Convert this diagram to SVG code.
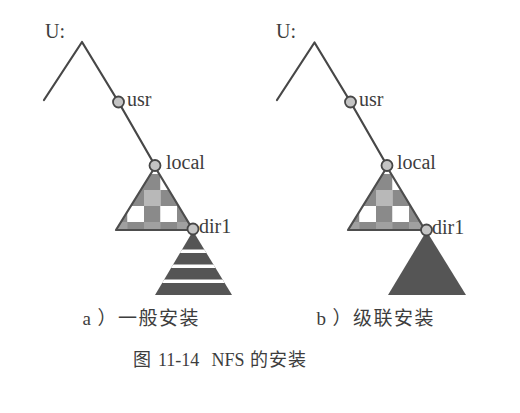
<svg xmlns="http://www.w3.org/2000/svg" width="520" height="413" viewBox="0 0 520 413">
  <style>
    .edge { fill: none; stroke: #474747; stroke-width: 2.2; stroke-linecap: round; stroke-linejoin: round; }
    .node { fill: #c4c4c4; stroke: #474747; stroke-width: 1.8; }
    .lbl { font-family: "Liberation Serif", "Noto Sans CJK SC", serif; font-size: 20px; fill: #3d3d3d; }
    .cap { font-family: "Liberation Serif", "Noto Sans CJK SC", serif; font-size: 19px; fill: #3d3d3d; letter-spacing: 1.5px; }
    .ttl { font-family: "Liberation Serif", "Noto Sans CJK SC", serif; font-size: 18px; fill: #3d3d3d; }
    .tri { stroke: #4d4d4d; stroke-width: 2.2; stroke-linejoin: round; }
    .dk { fill: #8a8a8a; }
    .wh { fill: #ffffff; }
    .lt { fill: #b8b8b8; }
    .md { fill: #a0a0a0; }
    .solid { fill: #555555; }
  </style>
  <defs>
    <clipPath id="chkClip">
      <polygon points="155,167 116,230 193,230"/>
    </clipPath>
    <clipPath id="stripeClip">
      <polygon points="193,231 155,295 232,295"/>
    </clipPath>
    <g id="checker">
      <g clip-path="url(#chkClip)">
        <rect class="wh" x="144" y="158" width="16.5" height="16"/>
        <rect class="dk" x="160.5" y="158" width="16.5" height="16"/>
        <rect class="dk" x="127.5" y="174" width="16.5" height="16"/>
        <rect class="dk" x="144" y="174" width="16.5" height="16"/>
        <rect class="wh" x="160.5" y="174" width="16.5" height="16"/>
        <rect class="lt" x="111" y="190" width="16.5" height="16"/>
        <rect class="dk" x="127.5" y="190" width="16.5" height="16"/>
        <rect class="lt" x="144" y="190" width="16.5" height="16"/>
        <rect class="dk" x="160.5" y="190" width="16.5" height="16"/>
        <rect class="lt" x="177" y="190" width="16.5" height="16"/>
        <rect class="dk" x="111" y="206" width="16.5" height="16"/>
        <rect class="wh" x="127.5" y="206" width="16.5" height="16"/>
        <rect class="dk" x="144" y="206" width="16.5" height="16"/>
        <rect class="wh" x="160.5" y="206" width="16.5" height="16"/>
        <rect class="dk" x="177" y="206" width="16.5" height="16"/>
        <rect class="md" x="111" y="222" width="83" height="16"/>
        <rect class="dk" x="127.5" y="222" width="16.5" height="16"/>
        <rect class="dk" x="160.5" y="222" width="16.5" height="16"/>
      </g>
      <polygon class="tri" points="155,167 116,230 193,230" fill="none"/>
    </g>
  </defs>

  <rect width="520" height="413" fill="#ffffff"/>

  <!-- a) 一般安装 -->
  <g id="diagram-a">
    <g id="a-connectors">
      <polyline class="edge" points="44,100 82,42 118.5,102 155,165.5"/>
    </g>
    <g id="a-root"><text class="lbl" x="45" y="38">U:</text></g>
    <g id="a-local-tree"><use href="#checker"/></g>
    <g id="a-dir1-tree">
      <polygon class="solid" points="193,231 155,295 232,295"/>
      <g clip-path="url(#stripeClip)" fill="#ffffff">
        <rect x="150" y="249.5" width="90" height="3.5"/>
        <rect x="150" y="264.5" width="90" height="3.5"/>
        <rect x="150" y="279.5" width="90" height="3.5"/>
      </g>
    </g>
    <g id="a-usr"><circle class="node" cx="118.5" cy="102" r="5.5"/><text class="lbl" x="127" y="106">usr</text></g>
    <g id="a-local"><circle class="node" cx="155" cy="165.5" r="5.5"/><text class="lbl" x="166" y="169">local</text></g>
    <g id="a-dir1"><circle class="node" cx="193" cy="229" r="5.5"/><text class="lbl" x="199" y="233">dir1</text></g>
    <g id="a-caption">
      <text class="cap" x="82.5" y="325">a<tspan dx="5">）</tspan>一般安装</text>
    </g>
  </g>

  <!-- b) 级联安装 -->
  <g id="diagram-b" transform="translate(232,0)">
    <g id="b-connectors">
      <polyline class="edge" points="45,100 82.5,42.5 118.5,102 155,165.5"/>
    </g>
    <g id="b-root"><text class="lbl" x="44" y="38">U:</text></g>
    <g id="b-local-tree"><use href="#checker"/></g>
    <g id="b-dir1-tree">
      <polygon class="solid" points="194.5,231 156,295 234,295"/>
    </g>
    <g id="b-usr"><circle class="node" cx="118.5" cy="102" r="5.5"/><text class="lbl" x="127" y="106">usr</text></g>
    <g id="b-local"><circle class="node" cx="155" cy="165.5" r="5.5"/><text class="lbl" x="165" y="169">local</text></g>
    <g id="b-dir1"><circle class="node" cx="194.5" cy="230" r="5.5"/><text class="lbl" x="200" y="234">dir1</text></g>
    <g id="b-caption">
      <text class="cap" x="84.5" y="325">b<tspan dx="5">）</tspan>级联安装</text>
    </g>
  </g>

  <g id="figure-title">
    <text class="ttl" y="366"><tspan x="133">图</tspan><tspan x="158">11-14</tspan><tspan x="211.5">NFS</tspan><tspan x="250" letter-spacing="1">的安装</tspan></text>
  </g>
</svg>
